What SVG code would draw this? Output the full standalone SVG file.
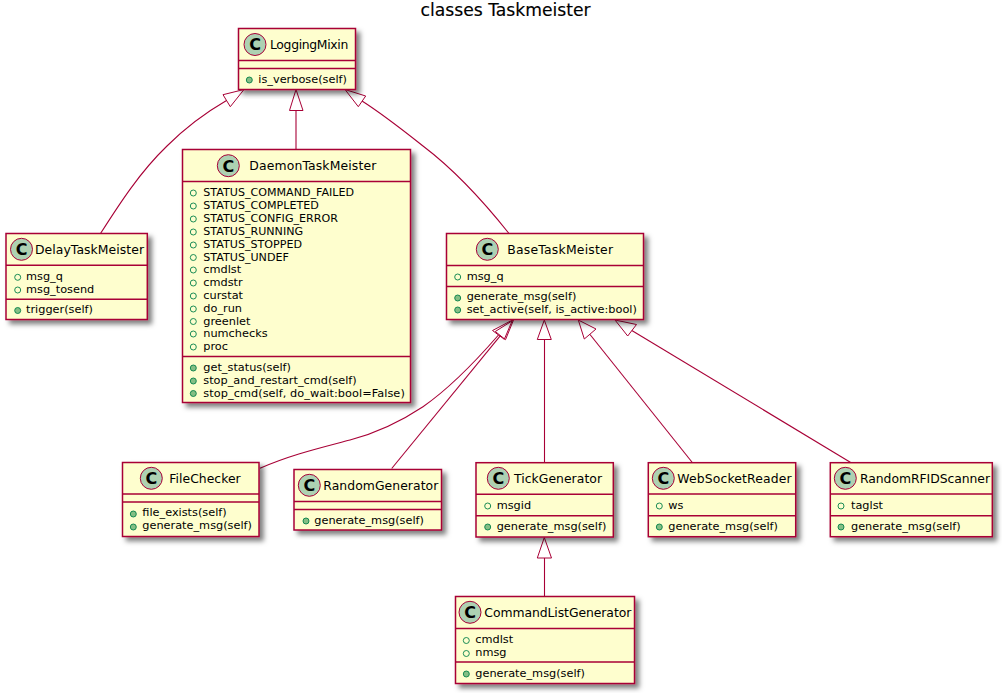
<svg xmlns="http://www.w3.org/2000/svg" width="1002" height="693" viewBox="0 0 1002 693">
<style>
text{font-family:"DejaVu Sans",sans-serif;fill:#000}
.title{font-size:17.2px;stroke:#000;stroke-width:.15}
.n{font-size:12.4px}
.m{font-size:11.3px}
.u{font-size:11.1px}
.c{font-size:16px;font-weight:bold;text-anchor:middle}
.box{fill:#FEFECE;stroke:#A80036;stroke-width:1.5;filter:url(#sh)}
.sep{stroke:#A80036;stroke-width:1.4;fill:none}
.ci{fill:#ADD1B2;stroke:#A80036;stroke-width:1}
.f{fill:none;stroke:#038048;stroke-width:.9}
.o{fill:#84BE84;stroke:#038048;stroke-width:.9}
.l{fill:none;stroke:#A80036;stroke-width:1.1}
.a{fill:#fff;stroke:#A80036;stroke-width:1}
.an{fill:none;stroke:#A80036;stroke-width:1}
</style>
<defs>
<filter id="sh" x="-10%" y="-10%" width="125%" height="125%"><feDropShadow dx="4" dy="4" stdDeviation="2.5" flood-color="#000" flood-opacity=".5"/></filter>
</defs>
<rect width="1002" height="693" fill="#fff"/>
<text class="title" x="420.5" y="16">classes Taskmeister</text>

<g id="connectors">
<path class="l" d="M100.5,233.5C120,203 140,172 167,146C185,128 205,113 226.5,100.5"/>
<polygon class="a" points="244,89.5 223,94.7 230.3,106.7"/>
<path class="l" d="M296,149.5V110.5"/>
<polygon class="a" points="296,89.5 289.5,110.5 303,110.5"/>
<path class="l" d="M509,233.5C480,197 452,168 423,146C404,131 384,115 362,101"/>
<polygon class="a" points="345,89.5 365.7,96 358.3,106.7"/>
<path class="l" d="M260,468.3C290,455 320,448 350,440C380,432 403,420 423,406.7C450,388 475,362 498.5,335"/>
<polygon class="an" points="512.5,320 492.5,330.5 504.3,339.3"/>
<path class="l" d="M391.7,468.5L500.4,335.6"/>
<polygon class="an" points="513.5,320 495.3,331.5 505.5,339.7"/>
<path class="l" d="M544.5,462.5V339.5"/>
<polygon class="a" points="544.3,320 537.3,339.5 551.3,339.5"/>
<path class="l" d="M692.3,462.5L590,334.5"/>
<polygon class="a" points="578.3,320 584.3,339 596,329"/>
<path class="l" d="M850.7,462.5L631,330"/>
<polygon class="a" points="615,320 627.7,336 636.5,324.5"/>
<path class="l" d="M544.5,596.5V558"/>
<polygon class="a" points="544.3,537.5 537.3,558 551.5,558"/>
</g>

<g id="LoggingMixin">
<rect class="box" x="238.5" y="28.5" width="117" height="61"/>
<path class="sep" d="M238.5,60.5H355.5M238.5,68.5H355.5"/>
<circle class="ci" cx="255" cy="44.5" r="11"/><text class="c" x="255" y="50.3">C</text>
<text class="n" x="270" y="49" textLength="78.3">LoggingMixin</text>
<circle class="o" cx="249.3" cy="80" r="3"/><text class="m" x="258.3" y="83">is_verbose(self)</text>
</g>

<g id="DaemonTaskMeister">
<rect class="box" x="182.5" y="149.5" width="228" height="253"/>
<path class="sep" d="M182.5,181.5H410.5M182.5,356.5H410.5"/>
<circle class="ci" cx="228.3" cy="165.7" r="11"/><text class="c" x="228.3" y="171.5">C</text>
<text class="n" x="249.3" y="170" textLength="127">DaemonTaskMeister</text>
<g class="f">
<circle cx="193.3" cy="193" r="3"/><circle cx="193.3" cy="206" r="3"/><circle cx="193.3" cy="219" r="3"/><circle cx="193.3" cy="232" r="3"/><circle cx="193.3" cy="245" r="3"/><circle cx="193.3" cy="257.5" r="3"/><circle cx="193.3" cy="270" r="3"/><circle cx="193.3" cy="283" r="3"/><circle cx="193.3" cy="296" r="3"/><circle cx="193.3" cy="309" r="3"/><circle cx="193.3" cy="321.5" r="3"/><circle cx="193.3" cy="334" r="3"/><circle cx="193.3" cy="347" r="3"/>
</g>
<text class="u" x="203.3" y="196">STATUS_COMMAND_FAILED</text>
<text class="u" x="203.3" y="209">STATUS_COMPLETED</text>
<text class="u" x="203.3" y="222">STATUS_CONFIG_ERROR</text>
<text class="u" x="203.3" y="235">STATUS_RUNNING</text>
<text class="u" x="203.3" y="247.5">STATUS_STOPPED</text>
<text class="u" x="203.3" y="260.5">STATUS_UNDEF</text>
<text class="m" x="203.3" y="273">cmdlst</text>
<text class="m" x="203.3" y="286">cmdstr</text>
<text class="m" x="203.3" y="299">curstat</text>
<text class="m" x="203.3" y="311.5">do_run</text>
<text class="m" x="203.3" y="324.5">greenlet</text>
<text class="m" x="203.3" y="337">numchecks</text>
<text class="m" x="203.3" y="350">proc</text>
<circle class="o" cx="193.3" cy="368" r="3"/><text class="m" x="203.3" y="371">get_status(self)</text>
<circle class="o" cx="193.3" cy="381" r="3"/><text class="m" x="203.3" y="383.5">stop_and_restart_cmd(self)</text>
<circle class="o" cx="193.3" cy="393.5" r="3"/><text class="m" x="203.3" y="396.5" textLength="201.5">stop_cmd(self, do_wait:bool=False)</text>
</g>

<g id="DelayTaskMeister">
<rect class="box" x="6" y="233.5" width="141.3" height="86"/>
<path class="sep" d="M6,265.3H147.3M6,299.3H147.3"/>
<circle class="ci" cx="21.5" cy="249.3" r="11"/><text class="c" x="21.5" y="255.1">C</text>
<text class="n" x="35" y="254" textLength="109">DelayTaskMeister</text>
<circle class="f" cx="17.7" cy="277.3" r="3"/><text class="m" x="26" y="280">msg_q</text>
<circle class="f" cx="17.7" cy="290" r="3"/><text class="m" x="26" y="292.5">msg_tosend</text>
<circle class="o" cx="17.7" cy="310.5" r="3"/><text class="m" x="26" y="313.3">trigger(self)</text>
</g>

<g id="BaseTaskMeister">
<rect class="box" x="446.5" y="233.5" width="197" height="86"/>
<path class="sep" d="M446.5,265.5H643.5M446.5,286.5H643.5"/>
<circle class="ci" cx="487.3" cy="249.3" r="11"/><text class="c" x="487.3" y="255.1">C</text>
<text class="n" x="507.3" y="254" textLength="105.7">BaseTaskMeister</text>
<circle class="f" cx="457.7" cy="277" r="3"/><text class="m" x="466.7" y="280">msg_q</text>
<circle class="o" cx="457.7" cy="298" r="3"/><text class="m" x="466.7" y="300">generate_msg(self)</text>
<circle class="o" cx="457.7" cy="310" r="3"/><text class="m" x="466.7" y="312.7">set_active(self, is_active:bool)</text>
</g>

<g id="FileChecker">
<rect class="box" x="122.5" y="462.5" width="136.5" height="74"/>
<path class="sep" d="M122.5,494H259M122.5,502H259"/>
<circle class="ci" cx="151.3" cy="478.3" r="11"/><text class="c" x="151.3" y="484.1">C</text>
<text class="n" x="169.3" y="483" textLength="71.4">FileChecker</text>
<circle class="o" cx="133.3" cy="514" r="3"/><text class="m" x="142.3" y="516">file_exists(self)</text>
<circle class="o" cx="133.3" cy="527" r="3"/><text class="m" x="142.3" y="529.3">generate_msg(self)</text>
</g>

<g id="RandomGenerator">
<rect class="box" x="294" y="469.5" width="147.5" height="60.5"/>
<path class="sep" d="M294,501.5H441.5M294,509.5H441.5"/>
<circle class="ci" cx="309.3" cy="485.3" r="11"/><text class="c" x="309.3" y="491.1">C</text>
<text class="n" x="323.3" y="490" textLength="115">RandomGenerator</text>
<circle class="o" cx="306" cy="521" r="3"/><text class="m" x="314.3" y="523.7">generate_msg(self)</text>
</g>

<g id="TickGenerator">
<rect class="box" x="476" y="462.7" width="137.3" height="74.3"/>
<path class="sep" d="M476,494.3H613.3M476,515.7H613.3"/>
<circle class="ci" cx="498.3" cy="478.3" r="11"/><text class="c" x="498.3" y="484.1">C</text>
<text class="n" x="514" y="483" textLength="88">TickGenerator</text>
<circle class="f" cx="487.7" cy="506" r="3"/><text class="m" x="496.7" y="509">msgid</text>
<circle class="o" cx="487.7" cy="527" r="3"/><text class="m" x="496.7" y="530">generate_msg(self)</text>
</g>

<g id="WebSocketReader">
<rect class="box" x="648.3" y="462.7" width="147.4" height="74"/>
<path class="sep" d="M648.3,494H795.7M648.3,515.7H795.7"/>
<circle class="ci" cx="663.3" cy="478.3" r="11"/><text class="c" x="663.3" y="484.1">C</text>
<text class="n" x="677.3" y="483" textLength="114.4">WebSocketReader</text>
<circle class="f" cx="659.3" cy="506" r="3"/><text class="m" x="668.3" y="509">ws</text>
<circle class="o" cx="659.3" cy="527" r="3"/><text class="m" x="668.3" y="530">generate_msg(self)</text>
</g>

<g id="RandomRFIDScanner">
<rect class="box" x="830.3" y="462.7" width="162" height="74"/>
<path class="sep" d="M830.3,494H992.3M830.3,515.7H992.3"/>
<circle class="ci" cx="845.3" cy="478.3" r="11"/><text class="c" x="845.3" y="484.1">C</text>
<text class="n" x="860" y="483" textLength="130">RandomRFIDScanner</text>
<circle class="f" cx="841" cy="506" r="3"/><text class="m" x="851" y="509">taglst</text>
<circle class="o" cx="841" cy="527" r="3"/><text class="m" x="851" y="530">generate_msg(self)</text>
</g>

<g id="CommandListGenerator">
<rect class="box" x="455.5" y="596.5" width="179" height="87"/>
<path class="sep" d="M455.5,628.5H634.5M455.5,662H634.5"/>
<circle class="ci" cx="470" cy="612.3" r="11"/><text class="c" x="470" y="618.1">C</text>
<text class="n" x="484.3" y="617" textLength="147">CommandListGenerator</text>
<circle class="f" cx="466.3" cy="640.5" r="3"/><text class="m" x="475.3" y="643.3">cmdlst</text>
<circle class="f" cx="466.3" cy="653.5" r="3"/><text class="m" x="475.3" y="656">nmsg</text>
<circle class="o" cx="466.3" cy="674" r="3"/><text class="m" x="475.3" y="676.7">generate_msg(self)</text>
</g>
</svg>
